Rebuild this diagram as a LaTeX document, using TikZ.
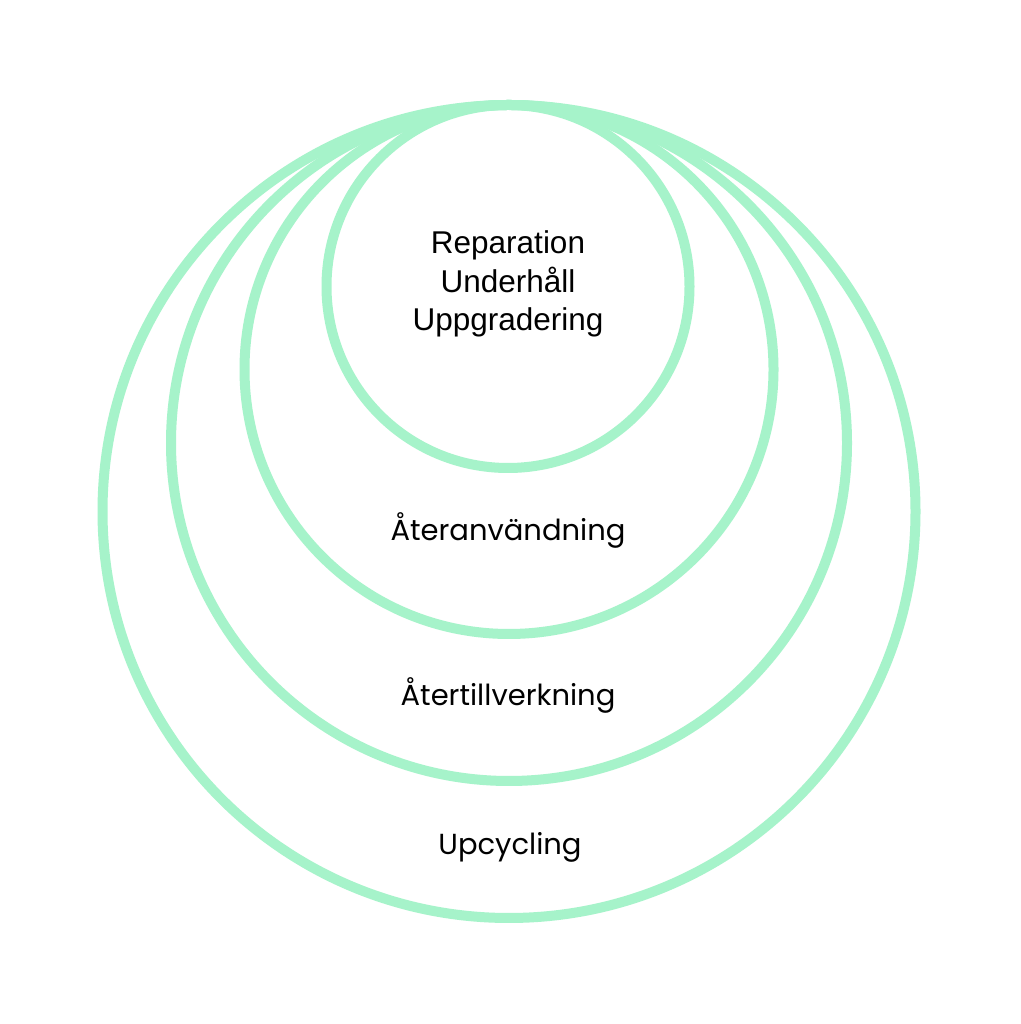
\documentclass[tikz,border=0pt]{standalone}
\usepackage{fontspec}
\setmainfont{Liberation Sans}
\newfontfamily\geofont{Poppins}
\definecolor{mint}{HTML}{A6F3CA}
\begin{document}
\begin{tikzpicture}[x=1pt,y=1pt,
  ring/.style={draw=mint,line width=10pt},
  lbl/.style={font=\geofont\fontsize{29}{34}\selectfont,text=black,inner sep=0pt},
  arial/.style={font=\fontsize{31.5}{38.5}\selectfont,text=black,inner sep=0pt,align=center}]
\useasboundingbox (0,0) rectangle (1020,1024);
\fill[white] (0,0) rectangle (1020,1024);
\draw[ring] (509,512.5) circle (406.5);
\draw[ring] (509,581) circle (338);
\draw[ring] (509,654.5) circle (264.5);
\draw[ring] (508,737.5) circle (181.5);
\node[arial] (inner) at (508,740) {Reparation\\Underhåll\\Uppgradering};
\node[lbl] (reuse) at (508,494) {Återanvändning};
\node[lbl] (reman) at (508,329) {Återtillverkning};
\node[lbl] (upcyc) at (510,177) {Upcycling};
\end{tikzpicture}
\end{document}
